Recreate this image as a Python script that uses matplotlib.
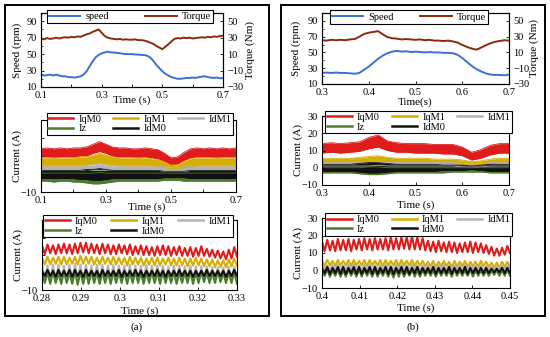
import numpy as np
import matplotlib
matplotlib.use("Agg")
import matplotlib.pyplot as plt
from matplotlib.lines import Line2D
from matplotlib.patches import Rectangle

plt.rcParams['font.family'] = ['Liberation Serif', 'DejaVu Serif']
plt.rcParams['font.size'] = 7

# ---------------- data ----------------
# top row: speed (rpm) and torque (Nm)
speed_a = [25, 24, 24.5, 25, 24, 25, 24, 23, 23, 22, 22, 21.5, 22, 23, 25, 29, 35, 41, 46, 49,
           51, 52, 53, 52, 52, 51.5, 51, 50.5, 50, 50, 50, 49.5, 49.5, 49, 49, 48, 46, 42, 37, 33,
           29, 26, 24, 22, 21, 20, 20, 20.5, 21, 21, 21.5, 21, 22, 22.5, 23, 22, 21.5, 21, 21.5, 20.5, 21]
torque_a = [29, 28, 29.5, 28.5, 29, 30, 29, 30, 30.5, 30, 31, 30.5, 31.5, 31, 32.5, 34, 35, 37, 38.5, 40,
            36, 32, 30, 29, 28.5, 28, 28.5, 27.5, 28, 27.5, 27.5, 28, 27, 27, 26.5, 25.5, 24, 22.5, 20, 18,
            16, 19, 22, 25.5, 28.5, 29.5, 29, 30, 29.5, 30, 29, 29.5, 30, 30.5, 30, 31, 30.5, 31.5, 31, 32, 32.5]
speed_b = [24, 24.5, 24, 24.5, 24, 24, 23.5, 23, 24, 28, 32, 37, 42, 46, 49, 51, 52, 51, 51.5, 50.5,
           51, 50.5, 50, 50.5, 50, 50, 49.5, 49.5, 49, 47, 43, 38, 33, 29, 26, 23.5, 22, 21.5, 21.5, 21, 22]
torque_b = [25.5, 25, 26, 25.5, 26, 25.5, 26.5, 27, 30, 33.5, 35, 36, 37, 33, 29.5, 28, 27.5, 26.5, 27, 26.5,
            26, 26.5, 25.5, 26, 25, 25, 24.5, 25, 24, 22.5, 19.5, 17, 15, 13.5, 16, 19, 21.5, 23.5, 24.5, 25.5, 25]

# middle row: current envelopes (A)
iqm0_up_a = [14, 14.5, 14, 14.5, 14, 14.5, 14.5, 15, 16.5, 18, 16.5, 15, 14.5, 14.5, 14, 14, 14.5, 14, 13.5, 11.5,
             9, 9.5, 12, 14, 14.5, 14, 14.5, 14, 14.5, 14, 14.5]
iqm0_lo_a = [9.5, 9.5, 9, 9.5, 9.5, 9.5, 10, 10, 11.5, 12.5, 11.5, 10, 9.5, 9.5, 9.5, 9, 9.5, 9, 8.5, 7,
             5, 5.5, 7.5, 9, 9.5, 9.5, 9.5, 9, 9.5, 9.5, 9.5]
iqm1_up_a = [9, 9, 9, 9, 9, 9, 9.5, 9.5, 10.5, 11.5, 10.5, 9.5, 9, 9, 9, 9, 9, 8.5, 8, 6.5,
             5, 5, 7, 8.5, 9, 9, 9, 9, 9, 9, 9]
iqm1_lo_a = [4.5, 4.5, 4.5, 4.5, 4.5, 4.5, 4.5, 5, 5.5, 6, 5.5, 5, 4.5, 4.5, 4.5, 4.5, 4.5, 4.5, 4, 3.5,
             3, 3, 3.5, 4, 4.5, 4.5, 4.5, 4.5, 4.5, 4.5, 4.5]
idm1_up_a = [4.5, 4.5, 4.5, 4.5, 4.5, 4.5, 4.5, 5, 5, 5.5, 5, 4.5, 4.5, 4.5, 4.5, 4.5, 4.5, 4.5, 4.5, 4,
             3.5, 3.5, 4, 4.5, 4.5, 4.5, 4.5, 4.5, 4.5, 4.5, 4.5]
idm1_lo_a = [2.5, 2.5, 2.5, 2.5, 2.5, 2.5, 2.5, 2.5, 2, 2, 2, 2.5, 2.5, 2.5, 2.5, 2.5, 2.5, 2.5, 2.5, 2,
             2, 2, 2, 2.5, 2.5, 2.5, 2.5, 2.5, 2.5, 2.5, 2.5]
iz_up_a = [0.5, 0.5, 0.5, 0.5, 0.5, 0.5, 0.5, 0.5, 0.5, 1, 0.5, 0.5, 0.5, 0.5, 0.5, 0.5, 0.5, 0.5, 0.5, 0.5,
           0.5, 0.5, 0.5, 0.5, 0.5, 0.5, 0.5, 0.5, 0.5, 0.5, 0.5]
iz_lo_a = [-4, -4, -4.5, -4, -4, -4.5, -4.5, -5, -5.5, -5.5, -5, -4.5, -4, -4, -4, -4, -4, -4, -4, -3.5,
           -3.5, -3.5, -4, -4, -4, -4, -4, -4, -4, -4, -4]
idm0_up_a = [2, 2, 2, 2, 2, 2, 2, 2.5, 2.5, 3, 2.5, 2, 2, 2, 2, 2, 2, 2, 2, 1.5,
             1.5, 1.5, 1.5, 2, 2, 2, 2, 2, 2, 2, 2]
idm0_lo_a = [-2.5, -2.5, -2.5, -2.5, -2.5, -2.5, -3, -3, -3.5, -3.5, -3, -2.5, -2.5, -2.5, -2.5, -2.5, -2.5, -2.5, -2.5, -2,
             -2, -2, -2, -2.5, -2.5, -2.5, -2.5, -2.5, -2.5, -2.5, -2.5]

iqm0_up_b = [14, 14.5, 14, 14.5, 15, 17.5, 19, 15.5, 14.5, 14, 14, 14, 13.5, 13.5, 13.5, 12, 9, 10.5, 13, 14, 14]
iqm0_lo_b = [8.5, 9, 8.5, 9, 9.5, 11, 12, 10, 9, 9, 8.5, 8.5, 8.5, 8, 8, 7, 4.5, 5.5, 7.5, 8.5, 8.5]
iqm1_up_b = [5.5, 5.5, 5.5, 5.5, 6, 6.5, 7, 6, 5.5, 5.5, 5.5, 5.5, 5, 5, 5, 4.5, 3.5, 4, 5, 5.5, 5.5]
iqm1_lo_b = [3, 3, 3, 3, 3, 3.5, 4, 3.5, 3, 3, 3, 3, 3, 2.5, 2.5, 2, 1.5, 2, 2.5, 3, 3]
idm1_up_b = [3, 3, 3, 3, 3, 3.5, 3.5, 3, 3, 3, 3, 3, 3, 3, 3, 2.5, 2, 2.5, 3, 3, 3]
idm1_lo_b = [1, 1, 1, 1, 1, 1, 1.5, 1, 1, 1, 1, 1, 1, 1, 1, 0.5, 0.5, 0.5, 1, 1, 1]
iz_up_b = [0, 0, 0, 0, 0, 0.5, 0.5, 0, 0, 0, 0, 0, 0, 0, 0, 0, 0, 0, 0, 0, 0]
iz_lo_b = [-3, -3, -3, -3, -3.5, -4, -4, -3.5, -3, -3, -3, -3, -3, -3, -2.5, -2.5, -2.5, -2.5, -3, -3, -3]
idm0_up_b = [2, 2, 2, 2, 2.5, 3, 3, 2.5, 2, 2, 2, 2, 2, 1.5, 1.5, 1.5, 1, 1.5, 2, 2, 2]
idm0_lo_b = [-2, -2, -2, -2, -2.5, -3, -3, -2.5, -2, -2, -2, -2, -2, -1.5, -1.5, -1.5, -1, -1.5, -2, -2, -2]

# bottom row: peaks and troughs of each ripple cycle (A)
iqm0_pk_a = [15.5, 16, 15.5, 16, 16.5, 16, 16.5, 17, 17, 16.5, 16, 16.5, 16, 15.5, 16, 15.5, 16, 15,
             15.5, 15, 14.5, 15, 15.5, 15, 14.5, 15, 14, 14.5, 14, 15, 13.5, 13, 12.5, 12, 13, 14.5]
iqm0_tr_a = [10.5, 11, 10.5, 11, 11, 10.5, 11, 11.5, 11, 11, 10.5, 11, 10.5, 10.5, 11, 10.5, 10, 10.5,
             10, 10, 9.5, 10, 10, 9.5, 10, 9.5, 9.5, 9, 9.5, 9.5, 9, 8.5, 8, 7.5, 8, 9]
iqm1_pk_a = [8.5, 9, 8.5, 9, 9, 8.5, 9, 9.5, 9, 9, 8.5, 9, 8.5, 9, 8.5, 8.5, 9, 8.5,
             8.5, 8, 8.5, 8.5, 8, 8.5, 8, 8.5, 8, 8, 8.5, 8, 7.5, 7.5, 7, 7, 7.5, 8]
iqm1_tr_a = [4.5, 4.5, 5, 4.5, 4.5, 5, 4.5, 5, 5, 4.5, 4.5, 5, 4.5, 4.5, 4.5, 4, 4.5, 4.5,
             4, 4.5, 4, 4, 4.5, 4, 4, 4, 3.5, 4, 4, 3.5, 3.5, 3, 3, 3, 3.5, 4]
idm1_pk_a = [4.5, 4, 4.5, 4.5, 4, 4.5, 5, 4.5, 4.5, 4, 4.5, 4.5, 4, 4.5, 4, 4, 4.5, 4,
             4, 4.5, 4, 4, 4, 3.5, 4, 4, 3.5, 4, 3.5, 3.5, 3.5, 3, 3, 3, 3.5, 3.5]
idm1_tr_a = [-4.5, -5, -4.5, -5, -5, -4.5, -5, -5.5, -5, -5, -4.5, -5, -4.5, -5, -4.5, -4.5, -5, -4.5,
             -4.5, -5, -4.5, -4.5, -5, -4.5, -4.5, -5, -4.5, -4.5, -5, -4.5, -4.5, -4, -4.5, -4.5, -4.5, -5]
iz_pk_a = [0.5, 0, 0.5, 0, 0.5, 0, 0.5, 0.5, 0, 0.5, 0, 0.5, 0, 0.5, 0, 0.5, 0, 0.5,
           0, 0, 0.5, 0, 0.5, 0, 0.5, 0, 0, 0.5, 0, 0.5, 0, 0, 0.5, 0, 0, 0.5]
iz_tr_a = [-6, -6.5, -6, -6.5, -6, -6.5, -7, -6.5, -6.5, -6, -6.5, -6, -6.5, -6, -6, -6.5, -6, -6,
           -6.5, -6, -6, -6.5, -6, -6, -6.5, -6, -6, -6.5, -6, -5.5, -6, -6, -5.5, -6, -6, -6.5]
idm0_pk_a = [1, 1.5, 1, 1.5, 1, 1.5, 1.5, 1, 1.5, 1, 1, 1.5, 1, 1, 1.5, 1, 1, 1.5,
             1, 1, 1, 1.5, 1, 1, 1, 1.5, 1, 1, 1, 1, 1.5, 1, 1, 1, 1, 1.5]
idm0_tr_a = [-2, -2, -2.5, -2, -2, -2.5, -2, -2.5, -2, -2, -2.5, -2, -2, -2, -2.5, -2, -2, -2,
             -2.5, -2, -2, -2, -2.5, -2, -2, -2, -2, -2.5, -2, -2, -2, -2, -2, -2.5, -2, -2]

iqm0_pk_b = [16.5, 17.5, 17, 18, 17.5, 18, 17.5, 18, 18.5, 18, 18.5, 18, 18.5, 19, 18.5, 19, 19, 19.5,
             19, 18.5, 17, 16.5, 17, 16, 16.5, 16, 15.5, 16, 16.5, 16, 15.5, 14.5, 13.5, 12.5, 13, 14]
iqm0_tr_b = [11, 11.5, 11, 11.5, 11.5, 11, 12, 11.5, 12, 11.5, 12, 12, 11.5, 12, 12, 12.5, 12, 12,
             12, 11.5, 11, 10.5, 11, 10.5, 10.5, 10, 10.5, 10.5, 10, 10.5, 10, 9.5, 8.5, 8.5, 9, 10]
iqm1_pk_b = [5.5, 6, 5.5, 6, 5.5, 6, 6, 5.5, 6, 6, 5.5, 6, 6, 5.5, 6, 6, 5.5, 6,
             5.5, 5.5, 5, 5.5, 5, 5.5, 5, 5.5, 5, 5.5, 5, 5, 5.5, 5, 4.5, 4.5, 5, 5]
iqm1_tr_b = [2.5, 3, 2.5, 3, 3, 2.5, 3, 3, 2.5, 3, 3, 2.5, 3, 3, 2.5, 3, 3, 2.5,
             3, 2.5, 2.5, 2, 2.5, 2.5, 2, 2.5, 2.5, 2, 2.5, 2, 2.5, 2, 1.5, 1.5, 2, 2]
idm1_pk_b = [3.5, 3, 3.5, 3.5, 3, 3.5, 3.5, 3, 3.5, 3.5, 3, 3.5, 3.5, 3, 3.5, 3.5, 3, 3.5,
             3, 3, 3.5, 3, 3, 3.5, 3, 3, 3.5, 3, 3, 3, 3, 2.5, 2.5, 2.5, 3, 3]
idm1_tr_b = [0.5, 0.5, 0, 0.5, 0.5, 0, 0.5, 0.5, 0, 0.5, 0.5, 0, 0.5, 0.5, 0, 0.5, 0.5, 0,
             0.5, 0.5, 0, 0.5, 0.5, 0, 0.5, 0.5, 0, 0.5, 0.5, 0, 0, 0, -0.5, 0, 0, 0.5]
iz_pk_b = [0, 0.5, 0, 0.5, 0, 0.5, 0, 0.5, 0.5, 0, 0.5, 0, 0.5, 0, 0.5, 0.5, 0, 0.5,
           0, 0.5, 0, 0, 0.5, 0, 0, 0.5, 0, 0, 0.5, 0, 0, 0, 0, 0, 0, 0.5]
iz_tr_b = [-3, -3.5, -3, -3.5, -3.5, -3, -3.5, -3.5, -3, -3.5, -3.5, -3, -3.5, -4, -3.5, -3.5, -3, -3.5,
           -3.5, -3, -3, -3.5, -3, -3, -3.5, -3, -3, -3, -3.5, -3, -3, -3, -2.5, -3, -3, -3]
idm0_pk_b = [1.5, 2, 1.5, 2, 2, 1.5, 2, 2, 1.5, 2, 2, 1.5, 2, 2, 1.5, 2, 2, 1.5,
             2, 1.5, 1.5, 2, 1.5, 1.5, 2, 1.5, 1.5, 2, 1.5, 1.5, 1.5, 1.5, 1, 1, 1.5, 1.5]
idm0_tr_b = [-1.5, -2, -1.5, -2, -2, -1.5, -2, -2, -1.5, -2, -2, -1.5, -2, -2, -1.5, -2, -2, -1.5,
             -2, -1.5, -1.5, -2, -1.5, -1.5, -2, -1.5, -1.5, -2, -1.5, -1.5, -1.5, -1.5, -1, -1, -1.5, -1.5]

current_names = ["IqM0", "IqM1", "IdM1", "Iz", "IdM0"]
current_colors = ["#E01B1B", "#D6AE00", "#B4B4B4", "#4E7A2E", "#111111"]
speed_color = "#3F6FD0"
torque_color = "#8B2A10"

W, H = 550.0, 337.0
FS = 8


def px_axes(fig, left, right, top, bottom):
    return fig.add_axes([left / W, 1 - bottom / H, (right - left) / W, (bottom - top) / H])


def style(ax):
    ax.tick_params(direction='in', length=2.5, width=0.6, pad=3, labelsize=7.5)
    for s in ax.spines.values():
        s.set_linewidth(0.8)


def zigzag(pk, tr):
    v = np.empty(2 * len(pk))
    v[0::2] = pk
    v[1::2] = tr
    return v


def current_legend(ax, x0, x1, top):
    hs = [Line2D([], [], color=c, lw=1.8) for c in current_colors]
    order = [0, 3, 1, 4, 2]
    leg = ax.legend([hs[i] for i in order], [current_names[i] for i in order], ncol=3,
                    loc='upper left', bbox_to_anchor=(x0, 0, x1 - x0, top), mode='expand',
                    fontsize=7.5, frameon=True, fancybox=False, edgecolor='black', framealpha=1,
                    borderpad=0.15, labelspacing=0.05, handlelength=2.4, handletextpad=0.5,
                    borderaxespad=0)
    leg.get_frame().set_linewidth(0.8)


def top_plot(ax, t, speed, torque, xt, xl, xlabel, leg_box, lab_y, ylx, yrx):
    style(ax)
    l1, = ax.plot(t, speed, color=speed_color, lw=1.4)
    ax.set_ylim(10, 100)
    ax.set_yticks([10, 30, 50, 70, 90])
    ax.set_yticks(np.arange(10, 100, 10), minor=True)
    ax.tick_params(which='minor', direction='in', length=1.5, width=0.5)
    ax.set_xlim(t[0], t[-1])
    ax.set_xticks(xt)
    ax.set_xticklabels(xl)
    ax.set_ylabel("Speed (rpm)", fontsize=FS)
    ax.yaxis.set_label_coords(ylx, 0.5)
    ax.set_xlabel(xlabel, fontsize=FS)
    ax.xaxis.set_label_coords(0.5, lab_y)
    ax2 = ax.twinx()
    style(ax2)
    l2, = ax2.plot(t, torque, color=torque_color, lw=1.4)
    ax2.set_ylim(-30, 60)
    ax2.set_yticks([-30, -10, 10, 30, 50])
    ax2.set_ylabel("Torque (Nm)", fontsize=FS)
    ax2.yaxis.set_label_coords(yrx, 0.5)
    leg = ax2.legend([l1, l2], [leg_box[3], "Torque"], ncol=2, loc='upper left',
                     bbox_to_anchor=(leg_box[0], 0, leg_box[1] - leg_box[0], leg_box[2]), mode='expand',
                     fontsize=7.5, frameon=True, fancybox=False, edgecolor='black', framealpha=1,
                     borderpad=0.2, handlelength=3, handletextpad=0.5, borderaxespad=0)
    leg.get_frame().set_linewidth(0.8)


def mid_plot(ax, t, bands, xt, xl, yl, lab_x, lab_y, ylx, leg):
    style(ax)
    for (up, lo), c in zip(bands, current_colors):
        ax.fill_between(t, lo, up, color=c, lw=0)
        ax.plot(t, up, color=c, lw=0.6)
        ax.plot(t, lo, color=c, lw=0.6)
    ax.set_xlim(t[0], t[-1])
    ax.set_ylim(-10, 30)
    ax.set_yticks([-10, 0, 10, 20, 30])
    ax.set_yticklabels(yl)
    ax.set_xticks(xt)
    ax.set_xticklabels(xl)
    ax.set_ylabel("Current (A)", fontsize=FS)
    ax.yaxis.set_label_coords(ylx, 0.5)
    ax.set_xlabel("Time (s)", fontsize=FS)
    ax.xaxis.set_label_coords(lab_x, lab_y)
    current_legend(ax, *leg)


def zoom_plot(ax, t0, t1, waves, xt, xl, yl, lab_y, ylx, leg):
    style(ax)
    for (pk, tr), c in zip(waves, current_colors):
        v = zigzag(pk, tr)
        ax.plot(np.linspace(t0, t1, len(v)), v, color=c, lw=1.5)
    ax.set_xlim(t0, t1)
    ax.set_ylim(-10, 30)
    ax.set_yticks([-10, 0, 10, 20, 30])
    ax.set_yticklabels(yl)
    ax.set_xticks(xt)
    ax.set_xticklabels(xl)
    ax.set_ylabel("Current (A)", fontsize=FS)
    ax.yaxis.set_label_coords(ylx, 0.5)
    ax.set_xlabel("Time (s)", fontsize=FS)
    ax.xaxis.set_label_coords(0.5, lab_y)
    current_legend(ax, *leg)


def main():
    fig = plt.figure(figsize=(5.5, 3.37), dpi=100)

    # panel frames
    for x0 in (5, 281):
        fig.add_artist(Rectangle((x0 / W, 1 - 316 / H), 264 / W, 311 / H, transform=fig.transFigure,
                                 fill=False, lw=1.4, ec='black'))
    fig.text(137 / W, 1 - 327 / H, "(a)", ha='center', va='center', fontsize=FS)
    fig.text(413 / W, 1 - 327 / H, "(b)", ha='center', va='center', fontsize=FS)

    # ---- (a) ----
    ax = px_axes(fig, 41, 223, 13, 87)
    top_plot(ax, np.linspace(0.1, 0.7, len(speed_a)), speed_a, torque_a,
             np.arange(0.1, 0.71, 0.1), ["0.1", "", "0.3", "", "0.5", "", "0.7"],
             "Time (s)", (0.033, 0.945, 1.04, "speed"), -0.11, -0.105, 1.125)

    ax = px_axes(fig, 41, 236, 120, 192)
    mid_plot(ax, np.linspace(0.1, 0.7, len(iqm0_up_a)),
             [(iqm0_up_a, iqm0_lo_a), (iqm1_up_a, iqm1_lo_a), (idm1_up_a, idm1_lo_a),
              (iz_up_a, iz_lo_a), (idm0_up_a, idm0_lo_a)],
             np.arange(0.1, 0.71, 0.1), ["0.1", "", "0.3", "", "0.5", "", "0.7"],
             ["\u221210", "", "", "", ""], 0.54, -0.14, -0.095, (0.03, 0.985, 1.1))

    ax = px_axes(fig, 42, 237, 220, 290)
    zoom_plot(ax, 0.28, 0.33,
              [(iqm0_pk_a, iqm0_tr_a), (iqm1_pk_a, iqm1_tr_a), (idm1_pk_a, idm1_tr_a),
               (iz_pk_a, iz_tr_a), (idm0_pk_a, idm0_tr_a)],
              np.arange(0.28, 0.3301, 0.01), ["0.28", "0.29", "0.3", "0.31", "0.32", "0.33"],
              ["\u221210", "", "", "", ""], -0.24, -0.095, (0.005, 0.98, 1.07))

    # ---- (b) ----
    ax = px_axes(fig, 322, 509, 13, 84)
    top_plot(ax, np.linspace(0.3, 0.7, len(speed_b)), speed_b, torque_b,
             np.arange(0.3, 0.71, 0.1), ["0.3", "0.4", "0.5", "0.6", "0.7"],
             "Time(s)", (0.043, 0.888, 1.04, "Speed"), -0.19, -0.11, 1.11)

    ax = px_axes(fig, 322, 509, 116, 185)
    mid_plot(ax, np.linspace(0.3, 0.7, len(iqm0_up_b)),
             [(iqm0_up_b, iqm0_lo_b), (iqm1_up_b, iqm1_lo_b), (idm1_up_b, idm1_lo_b),
              (iz_up_b, iz_lo_b), (idm0_up_b, idm0_lo_b)],
             np.arange(0.3, 0.71, 0.1), ["0.3", "0.4", "0.5", "0.6", "0.7"],
             ["\u221210", "0", "10", "20", "30"], 0.5, -0.23, -0.1, (0.016, 1.016, 1.07))

    ax = px_axes(fig, 322, 510, 218, 288)
    zoom_plot(ax, 0.4, 0.45,
              [(iqm0_pk_b, iqm0_tr_b), (iqm1_pk_b, iqm1_tr_b), (idm1_pk_b, idm1_tr_b),
               (iz_pk_b, iz_tr_b), (idm0_pk_b, idm0_tr_b)],
              np.arange(0.4, 0.4501, 0.01), ["0.4", "0.41", "0.42", "0.43", "0.44", "0.45"],
              ["\u221210", "0", "10", "20", "30"], -0.22, -0.1, (0.016, 1.01, 1.067))

    fig.savefig("out.png", dpi=100)


if __name__ == "__main__":
    main()
